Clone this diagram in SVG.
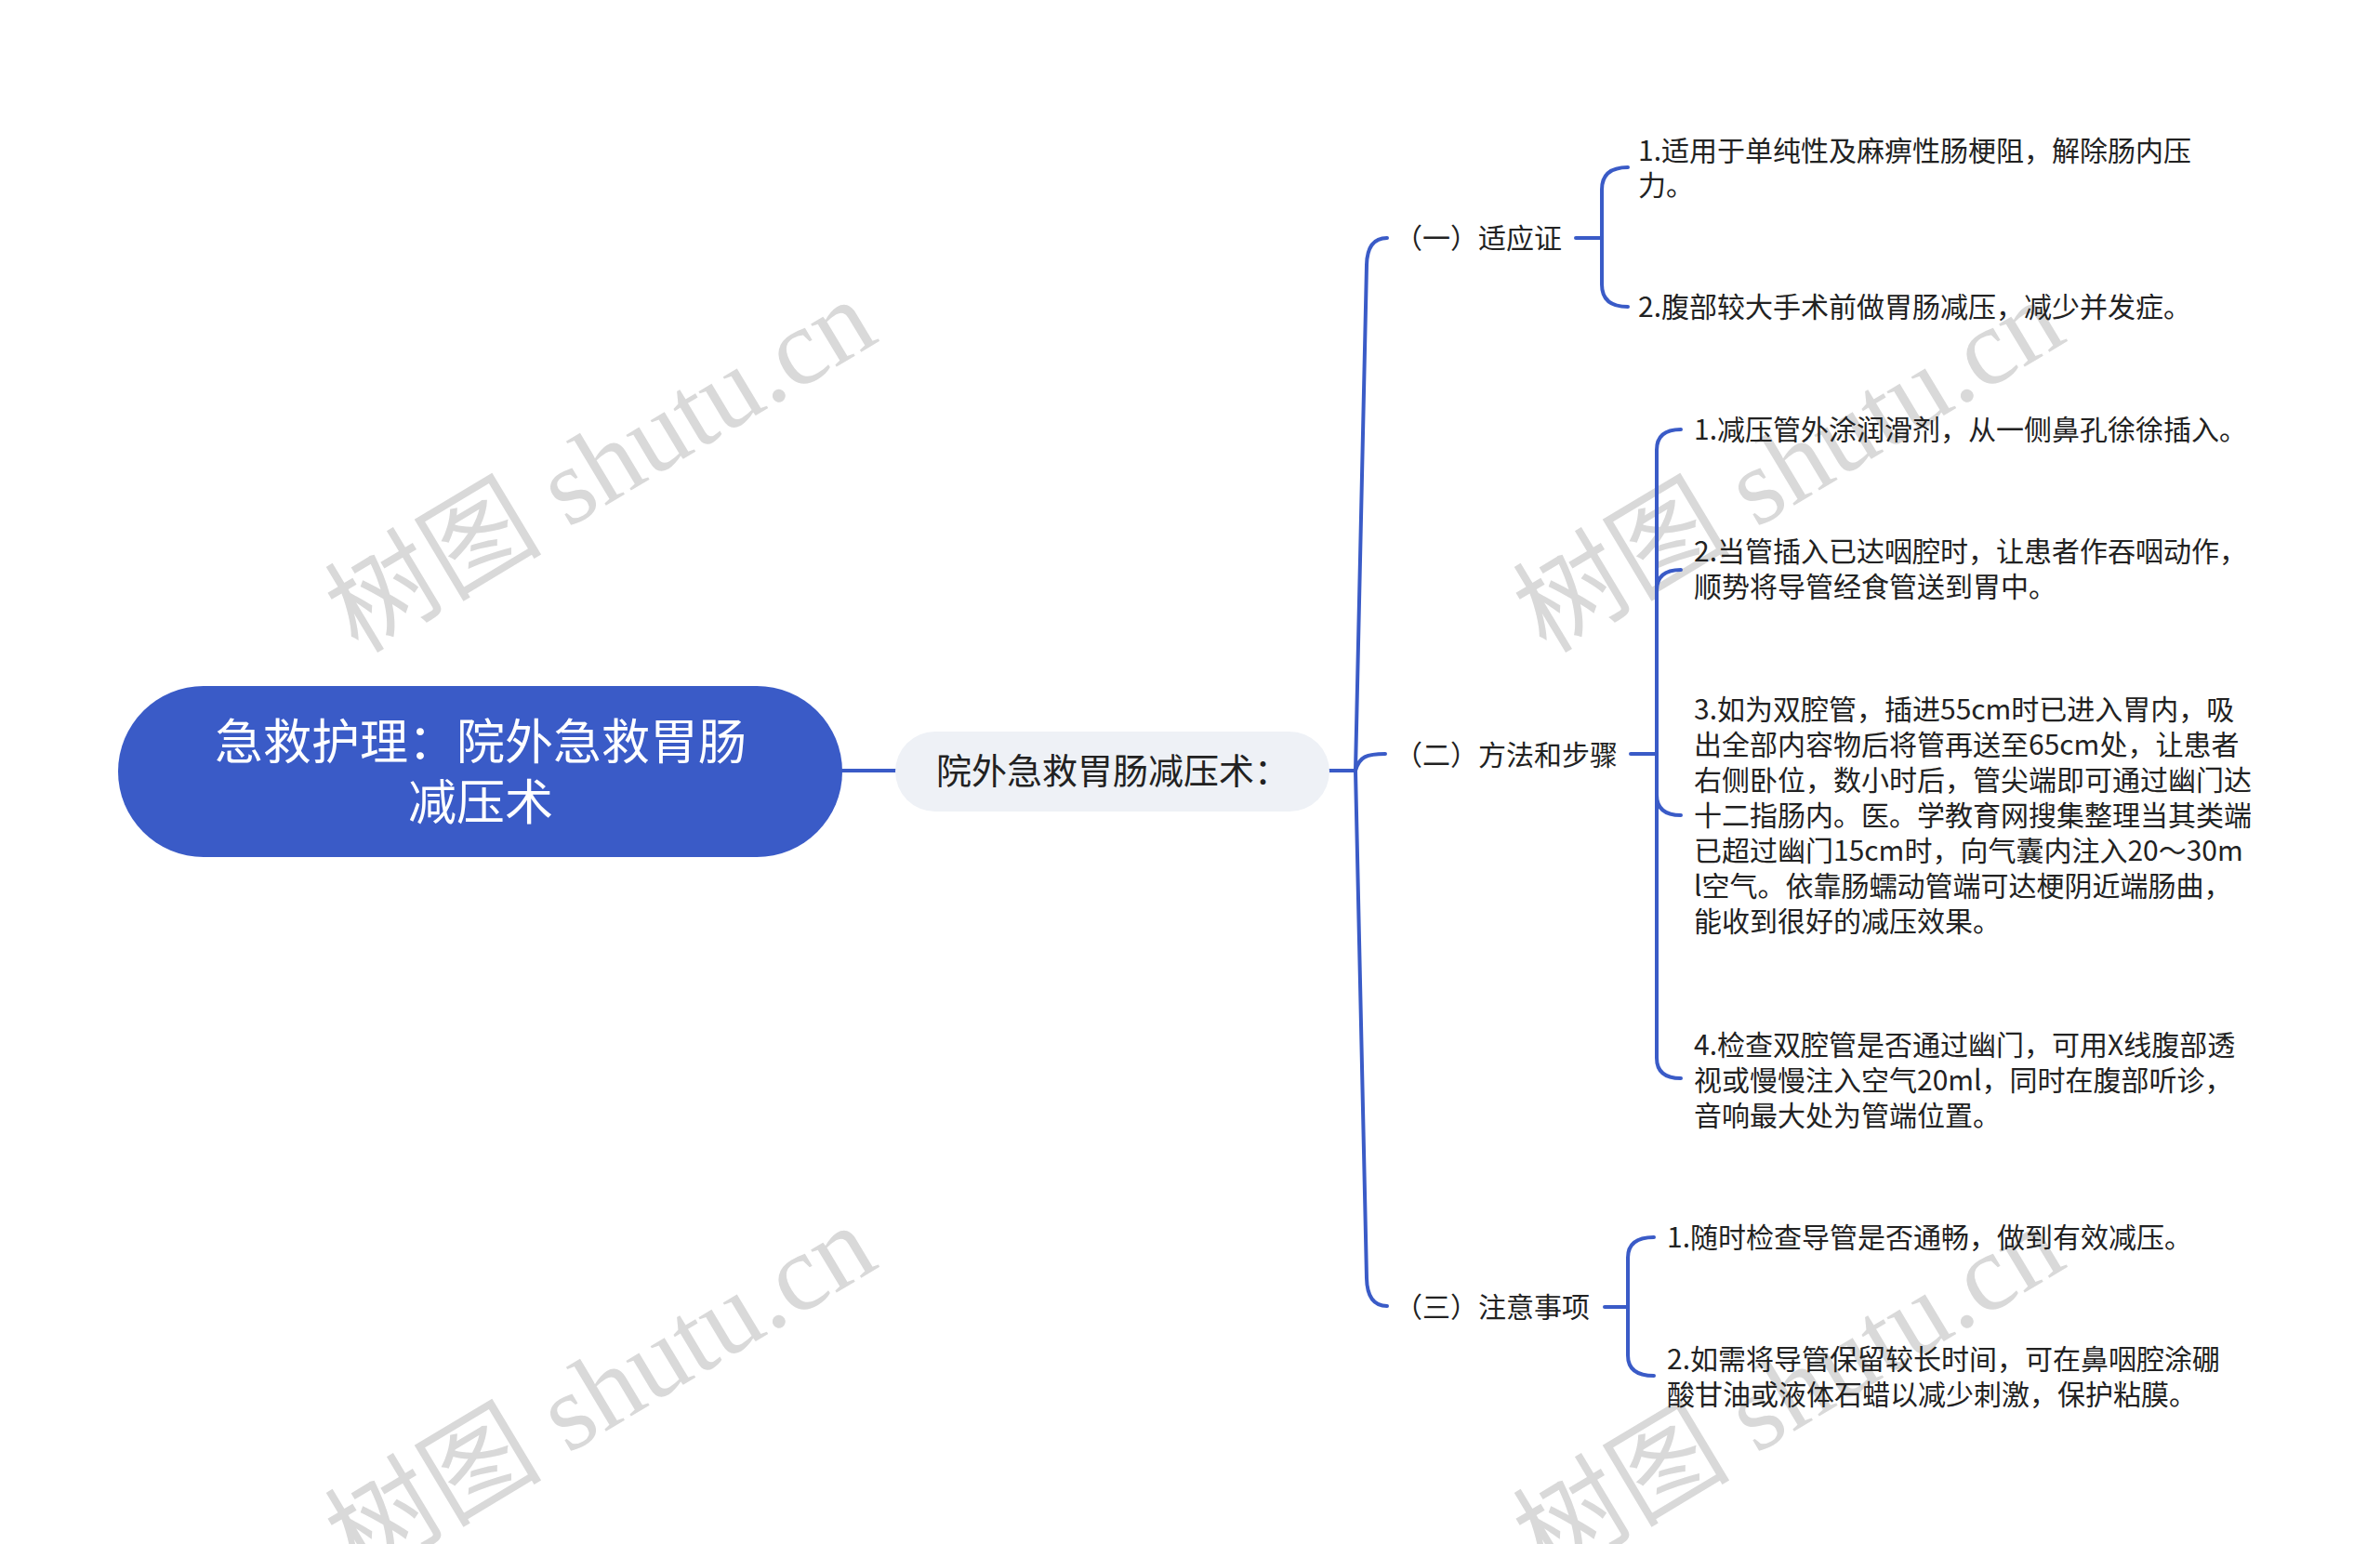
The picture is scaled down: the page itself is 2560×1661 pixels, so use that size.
<svg xmlns="http://www.w3.org/2000/svg" width="2560" height="1661" viewBox="0 0 2560 1661">
<style>
.wm{font-family:"Liberation Serif","Noto Sans CJK SC",serif;font-size:117px;fill:#d9d9d9}
.t{font-family:"Noto Sans CJK SC","Noto Sans",sans-serif;font-size:30px;fill:#222}
.c{fill:none;stroke:#3a5bc7;stroke-width:4;stroke-linecap:round}
</style>
<rect width="2560" height="1661" fill="#fff"/>
<g id="watermarks">
<text class="wm" transform="translate(385,704) rotate(-31)">树图 shutu.cn</text>
<text class="wm" transform="translate(1663,704) rotate(-31)">树图 shutu.cn</text>
<text class="wm" transform="translate(385,1700) rotate(-31)">树图 shutu.cn</text>
<text class="wm" transform="translate(1663,1700) rotate(-31)">树图 shutu.cn</text>
</g>
<g id="connectors">
<path class="c" d="M906,829 H963"/>
<path class="c" d="M1430,829 H1458"/>
<path class="c" d="M1458,829 L1470,285 Q1470.6,256 1492,256"/>
<path class="c" d="M1458,829 C1462,814 1470,811 1490,811"/>
<path class="c" d="M1458,829 L1470,1375 Q1470.6,1405 1492,1405"/>
<path class="c" d="M1695,256 H1723"/>
<path class="c" d="M1723,256 V204 Q1723,180 1751,180"/>
<path class="c" d="M1723,256 V306 Q1723,330 1751,330"/>
<path class="c" d="M1754,811 H1782"/>
<path class="c" d="M1782,811 V484 Q1782,462 1808,462"/>
<path class="c" d="M1782,811 V635 Q1782,613 1808,613"/>
<path class="c" d="M1782,811 V855 Q1782,877 1808,877"/>
<path class="c" d="M1782,811 V1138 Q1782,1160 1808,1160"/>
<path class="c" d="M1726,1406 H1751"/>
<path class="c" d="M1751,1406 V1353 Q1751,1331 1779,1331"/>
<path class="c" d="M1751,1406 V1458 Q1751,1480 1779,1480"/>
</g>
<g id="root">
<rect x="127" y="738" width="779" height="184" rx="92" fill="#3a5bc7"/>
<text class="t" style="font-size:52px;fill:#fff" text-anchor="middle" x="517" y="817">急救护理：院外急救胃肠</text>
<text class="t" style="font-size:52px;fill:#fff" text-anchor="middle" x="517" y="882">减压术</text>
</g>
<g id="sub">
<rect x="963" y="787" width="467" height="86" rx="43" fill="#eef1f6"/>
<text class="t" style="font-size:38px" text-anchor="middle" x="1197" y="843">院外急救胃肠减压术：</text>
</g>
<g id="b1"><text class="t" x="1500" y="267">（一）适应证</text></g>
<g id="b2"><text class="t" x="1500" y="823">（二）方法和步骤</text></g>
<g id="b3"><text class="t" x="1500" y="1417">（三）注意事项</text></g>
<g id="b1c1"><text class="t" x="1762" y="173">1.适用于单纯性及麻痹性肠梗阻，解除肠内压</text><text class="t" x="1762" y="210">力。</text></g>
<g id="b1c2"><text class="t" x="1762" y="341">2.腹部较大手术前做胃肠减压，减少并发症。</text></g>
<g id="b2c1"><text class="t" x="1822" y="473">1.减压管外涂润滑剂，从一侧鼻孔徐徐插入。</text></g>
<g id="b2c2"><text class="t" x="1822" y="604">2.当管插入已达咽腔时，让患者作吞咽动作，</text><text class="t" x="1822" y="642">顺势将导管经食管送到胃中。</text></g>
<g id="b2c3">
<text class="t" x="1822" y="774">3.如为双腔管，插进55cm时已进入胃内，吸</text>
<text class="t" x="1822" y="812">出全部内容物后将管再送至65cm处，让患者</text>
<text class="t" x="1822" y="850">右侧卧位，数小时后，管尖端即可通过幽门达</text>
<text class="t" x="1822" y="888">十二指肠内。医。学教育网搜集整理当其类端</text>
<text class="t" x="1822" y="926">已超过幽门15cm时，向气囊内注入20～30m</text>
<text class="t" x="1822" y="964">l空气。依靠肠蠕动管端可达梗阴近端肠曲，</text>
<text class="t" x="1822" y="1002">能收到很好的减压效果。</text>
</g>
<g id="b2c4">
<text class="t" x="1822" y="1135">4.检查双腔管是否通过幽门，可用X线腹部透</text>
<text class="t" x="1822" y="1173">视或慢慢注入空气20ml，同时在腹部听诊，</text>
<text class="t" x="1822" y="1211">音响最大处为管端位置。</text>
</g>
<g id="b3c1"><text class="t" x="1793" y="1342">1.随时检查导管是否通畅，做到有效减压。</text></g>
<g id="b3c2"><text class="t" x="1793" y="1473">2.如需将导管保留较长时间，可在鼻咽腔涂硼</text><text class="t" x="1793" y="1511">酸甘油或液体石蜡以减少刺激，保护粘膜。</text></g>
</svg>
